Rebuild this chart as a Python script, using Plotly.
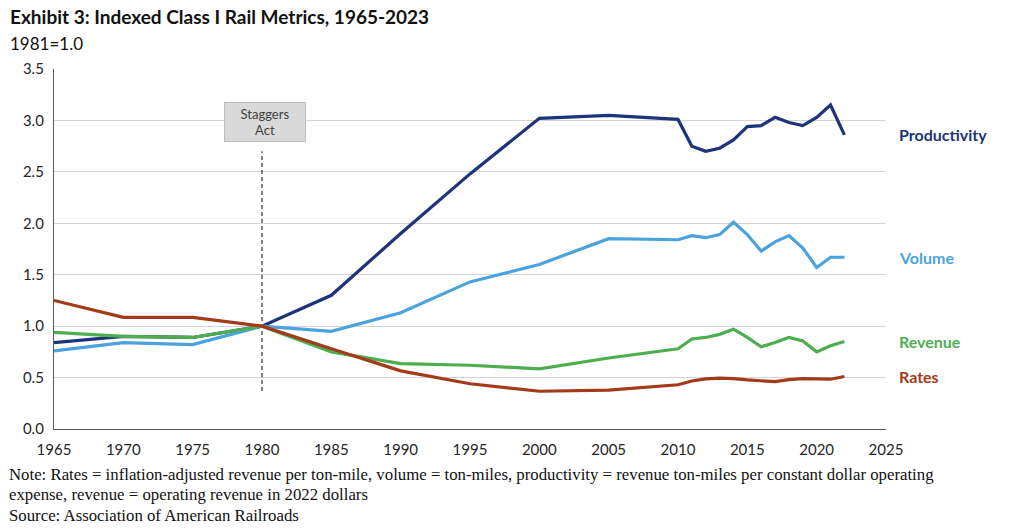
import plotly.graph_objects as go

years = [1965, 1970, 1975, 1980, 1985, 1990, 1995, 2000, 2005, 2010,
         2011, 2012, 2013, 2014, 2015, 2016, 2017, 2018, 2019, 2020, 2021, 2022]

productivity = [0.84, 0.90, 0.89, 1.00, 1.30, 1.90, 2.48, 3.02, 3.05, 3.01,
                2.75, 2.70, 2.73, 2.81, 2.94, 2.95, 3.03, 2.98, 2.95, 3.03, 3.15, 2.86]
volume = [0.76, 0.84, 0.82, 1.00, 0.95, 1.13, 1.43, 1.60, 1.85, 1.84,
          1.88, 1.86, 1.89, 2.01, 1.89, 1.73, 1.82, 1.88, 1.76, 1.57, 1.67, 1.67]
revenue = [0.94, 0.90, 0.89, 1.00, 0.75, 0.635, 0.62, 0.585, 0.69, 0.78,
           0.875, 0.89, 0.92, 0.97, 0.89, 0.80, 0.84, 0.89, 0.855, 0.75, 0.81, 0.85]
rates = [1.25, 1.085, 1.085, 1.00, 0.78, 0.565, 0.44, 0.367, 0.377, 0.43,
         0.467, 0.487, 0.494, 0.49, 0.477, 0.47, 0.46, 0.48, 0.49, 0.487, 0.484, 0.51]

series_names = ["Productivity", "Volume", "Revenue", "Rates"]
series_values = [productivity, volume, revenue, rates]
series_colors = ["#1c3479", "#4ba3de", "#4cae4f", "#a33a1a"]

x_ticks = list(range(1965, 2030, 5))
y_ticks = [0.0, 0.5, 1.0, 1.5, 2.0, 2.5, 3.0, 3.5]

staggers_year = 1980
staggers_line = [0.37, 2.70]
staggers_label = "Staggers<br>Act"
staggers_label_y = 2.98

title = "Exhibit 3: Indexed Class I Rail Metrics, 1965-2023"
subtitle = "1981=1.0"
note_lines = [
    "Note: Rates = inflation-adjusted revenue per ton-mile, volume = ton-miles, productivity = revenue ton-miles per constant dollar operating",
    "expense, revenue = operating revenue in 2022 dollars",
    "Source: Association of American Railroads",
]

fig = go.Figure()

# Staggers Act dashed line
fig.add_trace(go.Scatter(
    x=[staggers_year, staggers_year], y=staggers_line, mode="lines",
    line=dict(color="#404040", width=1.3, dash="4px,3px"),
    showlegend=False, hoverinfo="skip"))

for name, vals, col in zip(series_names, series_values, series_colors):
    fig.add_trace(go.Scatter(
        x=years, y=vals, mode="lines", name=name,
        line=dict(color=col, width=3.2), showlegend=False))

for name, vals, col in zip(series_names, series_values, series_colors):
    fig.add_annotation(
        xref="paper", x=1.013, y=vals[-1], yref="y",
        text="<b>" + name + "</b>", showarrow=False, xanchor="left",
        font=dict(family="Lato", size=16, color=col))

fig.add_annotation(
    x=staggers_year + 0.2, y=staggers_label_y, xref="x", yref="y",
    text=staggers_label, showarrow=False,
    font=dict(family="Lato", size=13, color="#404040"),
    bgcolor="#d9d9d9", bordercolor="#bfbfbf", borderwidth=1,
    width=76, height=34, borderpad=2)

fig.add_annotation(
    xref="paper", yref="paper", x=-0.055, y=1.147, xanchor="left", yanchor="middle",
    text="<b>" + title + "</b>", showarrow=False,
    font=dict(family="Lato", size=19, color="#111111"))
fig.add_annotation(
    xref="paper", yref="paper", x=-0.055, y=1.072, xanchor="left", yanchor="middle",
    text=subtitle, showarrow=False,
    font=dict(family="Lato", size=17, color="#111111"))

for i, line in enumerate(note_lines):
    fig.add_annotation(
        xref="paper", yref="paper", x=-0.056, y=-0.125 - i * 0.057,
        xanchor="left", yanchor="middle", text=line, showarrow=False,
        font=dict(family="Liberation Serif", size=16.8, color="#111111"))

fig.update_xaxes(
    range=[1965, 2025], tickvals=x_ticks, ticktext=[str(t) for t in x_ticks],
    showgrid=False, showline=True, linecolor="#595959", linewidth=1.3,
    ticks="", zeroline=False, ticklabelstandoff=7,
    tickfont=dict(family="Lato", size=15, color="#262626"))
fig.update_yaxes(
    range=[0, 3.5], tickvals=y_ticks, ticktext=[f"{t:.1f}" for t in y_ticks],
    showgrid=True, gridcolor="#d4d4d4", gridwidth=1.2,
    showline=True, linecolor="#595959", linewidth=1.3,
    ticks="", zeroline=False, ticklabelstandoff=6,
    tickfont=dict(family="Lato", size=15, color="#262626"))

fig.update_layout(
    width=1024, height=532,
    margin=dict(l=46, r=146, t=61, b=111),
    paper_bgcolor="white", plot_bgcolor="white",
    showlegend=False)

fig.write_html("out.html")
